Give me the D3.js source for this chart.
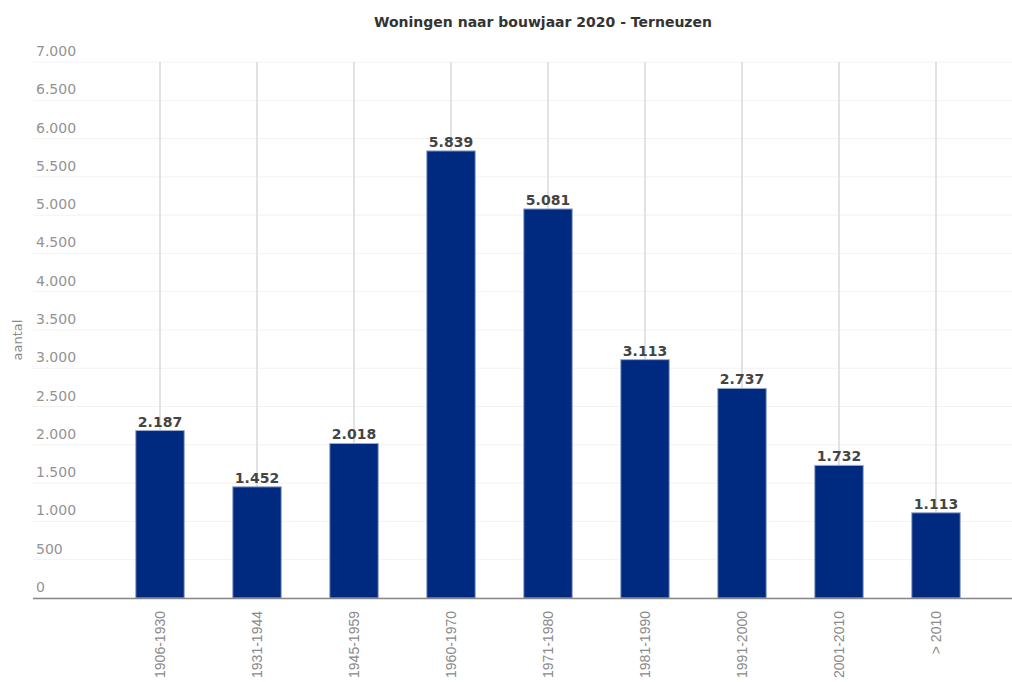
<!DOCTYPE html>
<html>
<head>
<meta charset="utf-8">
<script src="https://cdn.jsdelivr.net/npm/d3@7"></script>
<style>
  body { margin: 0; background: #fff; }
  svg { font-family: "DejaVu Sans", Verdana, sans-serif; }
</style>
</head>
<body>
<svg width="1012" height="682"></svg>
<script>
var categories = ["1906-1930", "1931-1944", "1945-1959", "1960-1970", "1971-1980", "1981-1990", "1991-2000", "2001-2010", "> 2010"]
var values = [2187, 1452, 2018, 5839, 5081, 3113, 2737, 1732, 1113]
var yTicks = [0, 500, 1000, 1500, 2000, 2500, 3000, 3500, 4000, 4500, 5000, 5500, 6000, 6500, 7000]

var width = 1012,
    height = 682,
    plotLeft = 33,
    plotRight = 1012,
    plotTop = 62,
    plotBottom = 598

var svg = d3.select("svg")

var fmt = function(v) {
    return d3.format(",")(v).replace(/,/g, ".")
}

var x = d3.scaleBand().domain(categories).range([111.5, 984.5]).paddingInner(0.5).paddingOuter(0.25)
var y = d3.scaleLinear().domain([0, 7000]).range([plotBottom, plotTop])
var cx = d => x(d) + x.bandwidth() / 2

// horizontal grid
svg.append("g").selectAll("line").data(yTicks).enter().append("line")
    .attr("x1", plotLeft).attr("x2", plotRight)
    .attr("y1", d => y(d)).attr("y2", d => y(d))
    .attr("stroke", "#f2f2f2").attr("stroke-width", 1)

// vertical grid at categories
svg.append("g").selectAll("line").data(categories).enter().append("line")
    .attr("x1", cx).attr("x2", cx)
    .attr("y1", plotTop).attr("y2", plotBottom)
    .attr("stroke", "#e2e2e2").attr("stroke-width", 2)

// y tick labels
svg.append("g").selectAll("text").data(yTicks).enter().append("text")
    .attr("x", 36).attr("y", d => y(d) - 6)
    .attr("font-size", 14).attr("fill", "#939393")
    .text(d => fmt(d))

// bars
svg.append("g").selectAll("rect").data(values).enter().append("rect")
    .attr("x", (d, i) => x(categories[i]))
    .attr("y", d => y(d))
    .attr("width", x.bandwidth())
    .attr("height", d => y(0) - y(d))
    .attr("fill", "#002a7f")
    .attr("stroke", "#9aaad0").attr("stroke-width", 1)

// value labels
svg.append("g").selectAll("text").data(values).enter().append("text")
    .attr("x", (d, i) => cx(categories[i]))
    .attr("y", d => y(d) - 4)
    .attr("text-anchor", "middle")
    .attr("font-size", 14).attr("font-weight", "bold").attr("fill", "#444")
    .text(d => fmt(d))

// x axis line
svg.append("line")
    .attr("x1", plotLeft).attr("x2", plotRight)
    .attr("y1", plotBottom + 0.5).attr("y2", plotBottom + 0.5)
    .attr("stroke", "#888").attr("stroke-width", 1.5)

// x labels
svg.append("g").selectAll("text").data(categories).enter().append("text")
    .attr("transform", d => "translate(" + (cx(d) + 5) + "," + 611 + ") rotate(-90)")
    .attr("text-anchor", "end")
    .style("font-family", "'Liberation Sans', Arial, sans-serif")
    .attr("font-size", 14).attr("fill", "#8a8a8a")
    .text(d => d)

// y axis title
svg.append("text")
    .attr("transform", "translate(22,340) rotate(-90)")
    .attr("text-anchor", "middle")
    .attr("font-size", 13).attr("fill", "#8a8a8a")
    .text("aantal")

// title
svg.append("text")
    .attr("x", 543).attr("y", 27)
    .attr("text-anchor", "middle")
    .attr("font-size", 14).attr("font-weight", "bold").attr("fill", "#333")
    .text("Woningen naar bouwjaar 2020 - Terneuzen")
</script>
</body>
</html>
